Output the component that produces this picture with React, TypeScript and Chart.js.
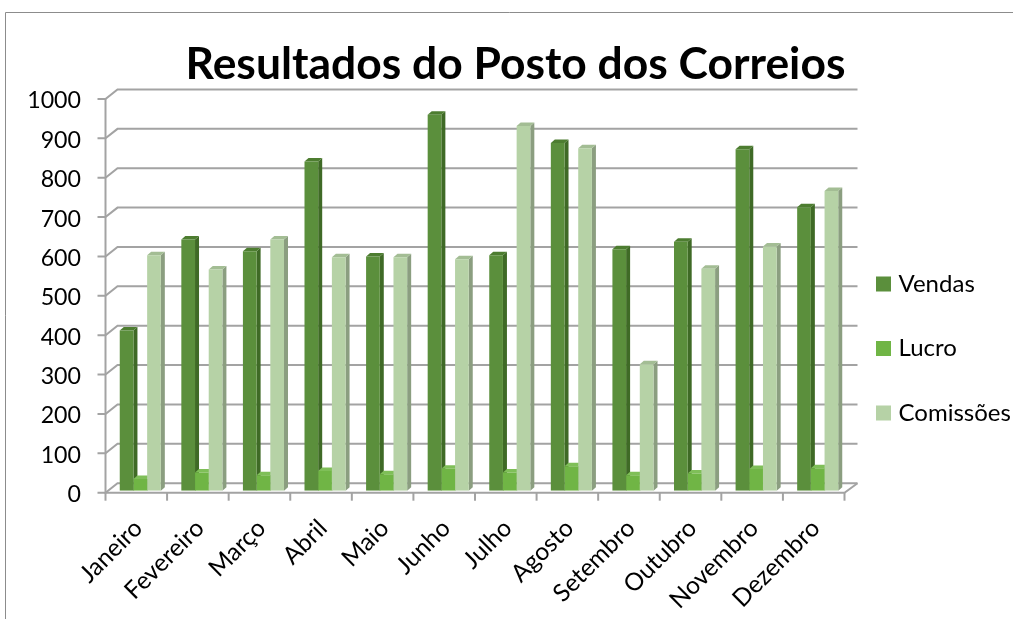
import React, { useEffect, useRef } from "react";
import { Chart, registerables } from "chart.js";

Chart.register(...registerables);

const categories = ["Janeiro", "Fevereiro", "Março", "Abril", "Maio", "Junho", "Julho", "Agosto", "Setembro", "Outubro", "Novembro", "Dezembro"];
const vendas = [407, 638, 608, 836, 595, 955, 598, 883, 613, 632, 867, 720];
const lucro = [30, 46, 39, 50, 42, 56, 46, 62, 39, 44, 55, 57];
const comissoes = [598, 562, 638, 593, 593, 588, 926, 870, 321, 564, 620, 761];
const titleText = "Resultados do Posto dos Correios";

const FRONT_COLORS = ["#5b8f3c", "#70b545", "#b6d2a6"];
const SIDE_COLORS = ["#3f6a26", "#548c33", "#8b9e80"];
const TOP_COLORS = ["#4d7d30", "#7fbf58", "#a3bd94"];
const GRID = "#a3a3a3";
const FONT = "Lato";

const chrome3d = {
  id: "chrome3d",
  afterLayout(chart: any) {
    const lg = chart.legend;
    const pad = lg.options.labels.padding;
    const dxL = 880.5 - pad - lg.left;
    lg.left += dxL;
    lg.right = chart.width;
    const dyL = 272 - pad - lg.top;
    lg.top += dyL; lg.bottom += dyL;
    const t = chart.titleBlock;
    t.left += 9; t.right += 9;
  },
  beforeDraw(chart: any) {
    const { ctx, width, height } = chart;
    ctx.save();
    ctx.fillStyle = "#ffffff";
    ctx.fillRect(0, 0, width, height);
    ctx.strokeStyle = "#8c8c8c";
    ctx.lineWidth = 1;
    ctx.beginPath();
    ctx.moveTo(5.5, height);
    ctx.lineTo(5.5, 12.5);
    ctx.lineTo(width, 12.5);
    ctx.stroke();
    ctx.restore();
  },
  beforeDatasetsDraw(chart: any) {
    const { ctx } = chart;
    const y = chart.scales.y;
    const x = chart.scales.x;
    const fl = x.left - 4;
    const fr = x.right - 4;
    const bl = fl + 12;
    const br = fr + 13;
    ctx.save();
    ctx.strokeStyle = GRID;
    ctx.lineWidth = 2;
    ctx.lineCap = "butt";
    y.ticks.forEach((t: any) => {
      const p = y.getPixelForValue(t.value);
      ctx.beginPath();
      ctx.moveTo(fl - 8, p + 2);
      ctx.lineTo(fl, p + 2);
      ctx.lineTo(bl, p - 7.5);
      ctx.lineTo(br, p - 7.5);
      ctx.stroke();
    });
    const p0 = y.getPixelForValue(0) + 2;
    const p1 = y.getPixelForValue(1000) + 2;
    ctx.beginPath();
    ctx.moveTo(fl, p1);
    ctx.lineTo(fl, p0);
    ctx.lineTo(fr, p0);
    ctx.lineTo(br, p0 - 9.5);
    ctx.stroke();
    categories.forEach((_, i) => {
      const tx = fl + (fr - fl) * (i / categories.length);
      ctx.beginPath();
      ctx.moveTo(tx, p0);
      ctx.lineTo(tx, p0 + 8);
      ctx.stroke();
    });
    ctx.beginPath();
    ctx.moveTo(fr, p0);
    ctx.lineTo(fr, p0 + 8);
    ctx.stroke();

    const dx = 4;
    const dy = 3.5;
    categories.forEach((_, i) => {
      [0, 1, 2].forEach((d) => {
        const el = chart.getDatasetMeta(d).data[i];
        const { x: cx, y: top, base, width: w } = el.getProps(["x", "y", "base", "width"], true);
        const l = cx - w / 2;
        const r = cx + w / 2;
        ctx.fillStyle = SIDE_COLORS[d];
        ctx.beginPath();
        ctx.moveTo(r, top);
        ctx.lineTo(r + dx, top - dy);
        ctx.lineTo(r + dx, base - dy);
        ctx.lineTo(r, base);
        ctx.closePath();
        ctx.fill();
        ctx.fillStyle = TOP_COLORS[d];
        ctx.beginPath();
        ctx.moveTo(l, top);
        ctx.lineTo(l + dx, top - dy);
        ctx.lineTo(r + dx, top - dy);
        ctx.lineTo(r, top);
        ctx.closePath();
        ctx.fill();
      });
    });
    ctx.restore();
  },
};

export default function App() {
  const ref = useRef<HTMLCanvasElement>(null);
  useEffect(() => {
    const names = ["Vendas", "Lucro", "Comissões"];
    const series = [vendas, lucro, comissoes];
    const chart = new Chart(ref.current as HTMLCanvasElement, {
      type: "bar",
      data: {
        labels: categories,
        datasets: names.map((label, i) => ({
          label,
          data: series[i],
          backgroundColor: FRONT_COLORS[i],
          borderWidth: 0,
          categoryPercentage: 0.667,
          barPercentage: 1,
        })),
      },
      plugins: [chrome3d],
      options: {
        animation: false,
        responsive: false,
        layout: { autoPadding: false, padding: 0 },
        scales: {
          x: {
            grid: { display: false },
            border: { display: false },
            afterFit(s: any) { s.height = 128.3; },
            ticks: { minRotation: 45, maxRotation: 45, color: "#000", padding: 15, labelOffset: -2, autoSkip: false, font: { family: FONT, size: 24.5 } },
          },
          y: {
            min: 0,
            max: 1000,
            grid: { display: false },
            border: { display: false },
            afterFit(s: any) { s.width = 109.5; },
            ticks: { stepSize: 100, color: "#000", padding: 20.5, labelOffset: 4, font: { family: FONT, size: 23.2 }, callback: (v: any) => String(v) },
          },
        },
        plugins: {
          title: {
            display: true,
            text: titleText,
            color: "#000",
            font: { family: FONT, size: 44.4, weight: "bold" },
            padding: { top: 38.5, bottom: 5.2 },
          },
          legend: {
            position: "right",
            align: "start",
            maxWidth: 164.5,
            labels: {
              color: "#000",
              padding: 40.5,
              boxWidth: 6,
              boxHeight: 6,
              font: { family: FONT, size: 24 },
              generateLabels: (c: any) =>
                c.data.datasets.map((ds: any, i: number) => ({
                  text: ds.label,
                  fillStyle: FRONT_COLORS[i],
                  strokeStyle: FRONT_COLORS[i],
                  lineWidth: 9,
                  fontColor: "#000",
                  datasetIndex: i,
                })),
            },
          },
          tooltip: { enabled: false },
        },
      } as any,
    });
    return () => chart.destroy();
  }, []);
  return <canvas ref={ref} width={1013} height={619} style={{ position: "absolute", left: 0, top: 0, display: "block" }} />;
}
